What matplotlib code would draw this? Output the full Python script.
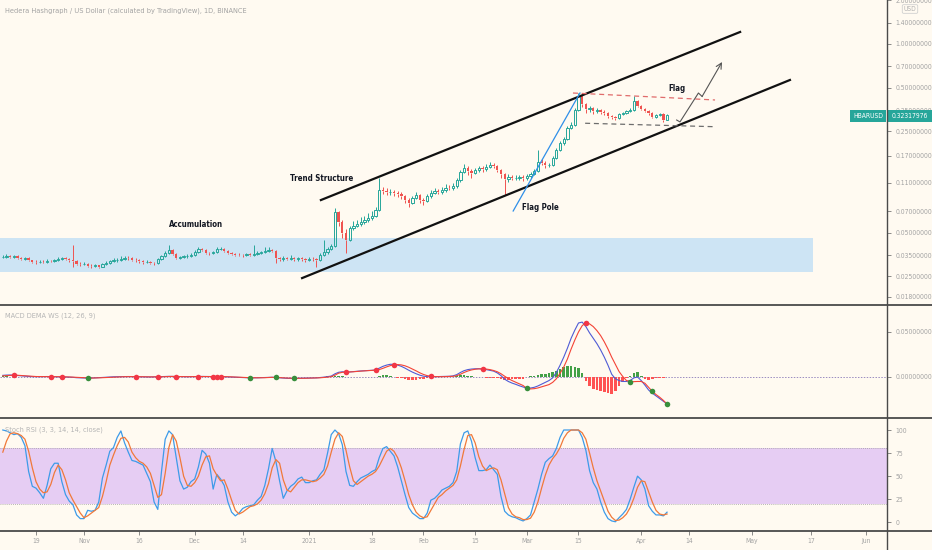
import os
import matplotlib
matplotlib.use('Agg')
import matplotlib.pyplot as plt
import matplotlib.dates as mdates
import matplotlib.patches as mpatches
from matplotlib import font_manager as fm
from matplotlib.font_manager import FontProperties
from matplotlib.lines import Line2D
from matplotlib.ticker import NullLocator
import numpy as np
import pandas as pd

# ── look ──────────────────────────────────────────────
BG = '#fffaf1'
UP = '#26a69a'
DN = '#ef5350'
TXT = '#a3a3a3'
FRAME = '#4a4a4a'

# TradingView uses a narrow face; take a narrow/condensed one if it is installed
_files = {os.path.basename(f.fname).lower(): f.fname for f in fm.fontManager.ttflist}

def _pick(cands):
    for c in cands:
        if c in _files:
            return _files[c]
    return None

_reg = _pick(['liberationsansnarrow-regular.ttf', 'dejavusanscondensed.ttf',
              'robotocondensed-regular.ttf', 'notosans-condensed.ttf'])
_bold = _pick(['liberationsansnarrow-bold.ttf', 'dejavusanscondensed-bold.ttf',
               'robotocondensed-bold.ttf', 'notosans-condensedbold.ttf'])
K = 1.0 if _reg else 0.86

def fp(size, bold=False):
    f = _bold if bold else _reg
    if f:
        return FontProperties(fname=f, size=size)
    return FontProperties(family=['Liberation Sans', 'DejaVu Sans'],
                          weight='bold' if bold else 'normal', size=size * K)

# ── data (HBARUSD daily, 2020-10-10 .. 2021-04-08) ───
first_open = 0.0338
close = [
    0.0342, 0.0345, 0.0340, 0.0343, 0.0336, 0.0330, 0.0333, 0.0322, 0.0315, 0.0312,
    0.0316, 0.0313, 0.0320, 0.0318, 0.0322, 0.0328, 0.0333, 0.0330, 0.0322, 0.0318,
    0.0306, 0.0303, 0.0305, 0.0296, 0.0294, 0.0297, 0.0292, 0.0303, 0.0308, 0.0318,
    0.0322, 0.0326, 0.0331, 0.0336, 0.0333, 0.0326, 0.0322, 0.0318, 0.0314, 0.0316,
    0.0310, 0.0307, 0.0328, 0.0345, 0.0362, 0.0380, 0.0356, 0.0334, 0.0338, 0.0343,
    0.0345, 0.0350, 0.0370, 0.0386, 0.0380, 0.0362, 0.0360, 0.0368, 0.0385, 0.0388,
    0.0374, 0.0362, 0.0355, 0.0352, 0.0350, 0.0348, 0.0354, 0.0352, 0.0358, 0.0362,
    0.0366, 0.0372, 0.0378, 0.0376, 0.0332, 0.0328, 0.0334, 0.0330, 0.0334, 0.0328,
    0.0333, 0.0329, 0.0325, 0.0330, 0.0327, 0.0324, 0.0352, 0.0366, 0.0385, 0.0405,
    0.0690, 0.0590, 0.0500, 0.0446, 0.0540, 0.0560, 0.0574, 0.0590, 0.0610, 0.0630,
    0.0652, 0.0716, 0.0980, 0.0970, 0.0950, 0.0955, 0.0940, 0.0925, 0.0890, 0.0840,
    0.0800, 0.0870, 0.0910, 0.0840, 0.0827, 0.0890, 0.0940, 0.0970, 0.0955, 0.0985,
    0.1020, 0.1015, 0.1050, 0.1150, 0.1310, 0.1400, 0.1330, 0.1290, 0.1350, 0.1400,
    0.1370, 0.1420, 0.1460, 0.1440, 0.1350, 0.1270, 0.1170, 0.1210, 0.1190, 0.1195,
    0.1210, 0.1190, 0.1230, 0.1270, 0.1330, 0.1540, 0.1510, 0.1460, 0.1470, 0.1640,
    0.1860, 0.2070, 0.2210, 0.2630, 0.2760, 0.3500, 0.4380, 0.3860, 0.3560, 0.3600,
    0.3450, 0.3480, 0.3400, 0.3340, 0.3180, 0.3140, 0.3090, 0.3290, 0.3340, 0.3450,
    0.3480, 0.4050, 0.3740, 0.3560, 0.3450, 0.3340, 0.3140, 0.3230, 0.3290, 0.3000,
    0.3232]
high = [
    .0352, .0356, .0352, .0350, .0348, .0341, .0340, .0337, .0326, .0322,
    .0324, .0322, .0328, .0326, .0331, .0337, .0342, .0340, .0336, .0410,
    .0322, .0312, .0312, .0309, .0302, .0305, .0301, .0311, .0318, .0326,
    .0332, .0336, .0345, .0347, .0343, .0338, .0332, .0328, .0324, .0323,
    .0320, .0316, .0334, .0352, .0372, .0412, .0388, .0362, .0346, .0352,
    .0354, .0362, .0380, .0400, .0394, .0386, .0370, .0376, .0395, .0398,
    .0394, .0379, .0367, .0362, .0360, .0357, .0362, .0362, .0410, .0372,
    .0376, .0395, .0400, .0388, .0382, .0340, .0346, .0342, .0348, .0340,
    .0342, .0340, .0336, .0340, .0338, .0334, .0362, .0445, .0400, .0420,
    .0740, .0700, .0610, .0530, .0560, .0600, .0610, .0640, .0650, .0680,
    .0700, .0750, .1190, .1030, .1010, .1000, .0990, .0975, .0950, .0910,
    .0860, .0895, .0950, .0930, .0870, .0920, .0980, .1010, .1000, .1030,
    .1080, .1060, .1100, .1200, .1360, .1480, .1430, .1380, .1400, .1450,
    .1440, .1480, .1540, .1510, .1470, .1380, .1290, .1260, .1250, .1240,
    .1250, .1240, .1270, .1310, .1380, .1860, .1600, .1550, .1520, .1700,
    .1920, .2150, .2300, .2700, .2900, .3600, .4600, .4420, .3900, .3750,
    .3650, .3600, .3560, .3480, .3390, .3260, .3200, .3360, .3420, .3520,
    .3600, .4400, .4100, .3800, .3620, .3500, .3380, .3290, .3350, .3320,
    .3290]
low = [
    .0332, .0336, .0335, .0334, .0331, .0325, .0326, .0317, .0309, .0306,
    .0308, .0307, .0309, .0312, .0314, .0318, .0323, .0324, .0316, .0288,
    .0299, .0296, .0297, .0290, .0287, .0288, .0284, .0288, .0298, .0303,
    .0313, .0316, .0320, .0326, .0326, .0320, .0316, .0311, .0306, .0308,
    .0302, .0300, .0303, .0323, .0340, .0356, .0350, .0328, .0327, .0332,
    .0336, .0339, .0345, .0364, .0372, .0356, .0353, .0355, .0362, .0377,
    .0368, .0355, .0348, .0345, .0343, .0341, .0343, .0345, .0346, .0352,
    .0356, .0360, .0365, .0368, .0310, .0318, .0320, .0322, .0323, .0320,
    .0321, .0321, .0316, .0318, .0319, .0290, .0320, .0346, .0358, .0378,
    .0400, .0560, .0460, .0360, .0440, .0520, .0545, .0555, .0575, .0590,
    .0610, .0640, .0700, .0930, .0910, .0905, .0900, .0885, .0850, .0800,
    .0750, .0785, .0850, .0800, .0780, .0810, .0870, .0920, .0920, .0930,
    .0960, .0980, .0990, .1020, .1120, .1280, .1250, .1200, .1260, .1320,
    .1320, .1340, .1390, .1390, .1310, .1200, .0910, .1120, .1150, .1150,
    .1160, .1130, .1160, .1200, .1250, .1320, .1460, .1400, .1410, .1450,
    .1600, .1820, .2020, .2180, .2580, .2720, .3450, .3700, .3350, .3420,
    .3300, .3350, .3300, .3230, .3080, .3050, .2980, .3050, .3230, .3290,
    .3380, .3430, .3650, .3480, .3380, .3250, .3080, .3100, .3180, .2880,
    .2980]
last_price = 0.32317976

macd_line = [
    0.0018, 0.0021, 0.0022, 0.0020, 0.0016, 0.0012, 0.0009, 0.0006, 0.0004, 0.0003,
    0.0003, 0.0004, 0.0005, 0.0004, 0.0004, 0.0003, 0.0002, 0.0000, -0.0002, -0.0004,
    -0.0008, -0.0010, -0.0012, -0.0013, -0.0012, -0.0010, -0.0008, -0.0006, -0.0003, 0.0000,
    0.0002, 0.0003, 0.0004, 0.0005, 0.0005, 0.0004, 0.0003, 0.0002, 0.0001, 0.0000,
    0.0000, 0.0001, 0.0002, 0.0004, 0.0006, 0.0007, 0.0006, 0.0004, 0.0003, 0.0003,
    0.0003, 0.0004, 0.0005, 0.0006, 0.0006, 0.0005, 0.0005, 0.0005, 0.0004, 0.0004,
    0.0003, 0.0001, -0.0001, -0.0003, -0.0005, -0.0007, -0.0009, -0.0010, -0.0010, -0.0009,
    -0.0008, -0.0006, -0.0004, -0.0003, -0.0006, -0.0010, -0.0013, -0.0015, -0.0016, -0.0016,
    -0.0015, -0.0014, -0.0013, -0.0012, -0.0011, -0.0010, -0.0006, -0.0002, 0.0004, 0.0010,
    0.0035, 0.0052, 0.0058, 0.0055, 0.0056, 0.0060, 0.0064, 0.0067, 0.0070, 0.0072,
    0.0074, 0.0078, 0.0098, 0.0118, 0.0132, 0.0141, 0.0140, 0.0132, 0.0118, 0.0098,
    0.0075, 0.0054, 0.0036, 0.0020, 0.0009, 0.0004, 0.0002, 0.0003, 0.0004, 0.0005,
    0.0006, 0.0008, 0.0012, 0.0026, 0.0050, 0.0070, 0.0082, 0.0088, 0.0091, 0.0092,
    0.0088, 0.0082, 0.0074, 0.0065, 0.0045, 0.0015, -0.0025, -0.0050, -0.0068, -0.0082,
    -0.0098, -0.0112, -0.0125, -0.0123, -0.0115, -0.0100, -0.0080, -0.0060, -0.0040, -0.0010,
    0.0050, 0.0130, 0.0220, 0.0320, 0.0430, 0.0520, 0.0600, 0.0610, 0.0560, 0.0490,
    0.0430, 0.0370, 0.0300, 0.0220, 0.0130, 0.0030, -0.0020, -0.0040, -0.0050, -0.0050,
    -0.0040, -0.0010, 0.0000, -0.0040, -0.0090, -0.0145, -0.0180, -0.0210, -0.0240, -0.0270,
    -0.0300]
signal_line = [
    0.0012, 0.0015, 0.0018, 0.0020, 0.0019, 0.0016, 0.0013, 0.0010, 0.0007, 0.0005,
    0.0004, 0.0004, 0.0004, 0.0004, 0.0004, 0.0004, 0.0003, 0.0002, 0.0000, -0.0002,
    -0.0005, -0.0007, -0.0009, -0.0011, -0.0012, -0.0011, -0.0010, -0.0008, -0.0006, -0.0003,
    -0.0001, 0.0001, 0.0002, 0.0003, 0.0004, 0.0004, 0.0004, 0.0003, 0.0002, 0.0001,
    0.0001, 0.0001, 0.0001, 0.0002, 0.0004, 0.0005, 0.0006, 0.0005, 0.0004, 0.0004,
    0.0003, 0.0003, 0.0004, 0.0005, 0.0005, 0.0005, 0.0005, 0.0005, 0.0005, 0.0005,
    0.0004, 0.0003, 0.0001, -0.0001, -0.0003, -0.0005, -0.0007, -0.0008, -0.0009, -0.0009,
    -0.0009, -0.0008, -0.0006, -0.0004, -0.0005, -0.0007, -0.0010, -0.0012, -0.0014, -0.0015,
    -0.0015, -0.0015, -0.0014, -0.0013, -0.0012, -0.0011, -0.0009, -0.0006, -0.0002, 0.0004,
    0.0020, 0.0042, 0.0052, 0.0054, 0.0055, 0.0058, 0.0062, 0.0065, 0.0068, 0.0071,
    0.0073, 0.0076, 0.0082, 0.0096, 0.0112, 0.0126, 0.0136, 0.0138, 0.0134, 0.0124,
    0.0108, 0.0088, 0.0068, 0.0046, 0.0028, 0.0015, 0.0008, 0.0004, 0.0003, 0.0003,
    0.0004, 0.0005, 0.0007, 0.0014, 0.0030, 0.0050, 0.0066, 0.0078, 0.0086, 0.0090,
    0.0090, 0.0088, 0.0082, 0.0072, 0.0058, 0.0036, 0.0008, -0.0018, -0.0040, -0.0058,
    -0.0075, -0.0095, -0.0128, -0.0133, -0.0130, -0.0122, -0.0110, -0.0098, -0.0085, -0.0060,
    -0.0020, 0.0040, 0.0110, 0.0200, 0.0310, 0.0410, 0.0500, 0.0570, 0.0605, 0.0590,
    0.0560, 0.0515, 0.0460, 0.0390, 0.0310, 0.0220, 0.0140, 0.0060, 0.0005, -0.0040,
    -0.0052, -0.0052, -0.0050, -0.0050, -0.0070, -0.0115, -0.0160, -0.0195, -0.0225, -0.0260,
    -0.0300]
# crossover markers, in days after 2020-10-19
cross_down_days = [-6, 4, 7, 27, 33, 38, 44, 48, 49, 50, 84, 92, 97, 107, 121, 149]
cross_up_days = [14, 58, 65, 70, 133, 161, 167, 171]

stoch_k = [
    100, 99, 97, 95, 96, 92, 83, 55, 39, 37,
    32, 26, 40, 58, 64, 64, 44, 30, 23, 19,
    8, 4, 4, 13, 12, 13, 22, 48, 62, 77,
    81, 92, 99, 86, 76, 67, 66, 64, 62, 53,
    44, 22, 14, 55, 90, 99, 95, 70, 45, 36,
    38, 44, 47, 60, 78, 74, 64, 36, 52, 47,
    40, 22, 11, 7, 10, 15, 17, 18, 19, 24,
    28, 40, 58, 80, 66, 45, 26, 34, 39, 42,
    47, 49, 43, 43, 45, 46, 52, 57, 75, 95,
    100, 96, 84, 55, 40, 39, 44, 48, 50, 52,
    55, 57, 70, 80, 82, 77, 72, 60, 45, 30,
    16, 10, 7, 4, 4, 10, 24, 26, 30, 35,
    37, 39, 43, 55, 85, 97, 99, 88, 70, 56,
    56, 57, 62, 57, 52, 28, 12, 8, 6, 5,
    3, 1.5, 4, 8, 22, 36, 52, 65, 69, 72,
    80, 92, 100, 100, 100, 100, 100, 92, 78, 56,
    43, 36, 22, 11, 4, 1.5, 0.6, 5, 9, 14,
    25, 38, 50, 46, 36, 18, 12, 8, 8, 7,
    11]
stoch_d = [
    76, 88, 96, 97, 96, 94, 90, 77, 59, 44,
    36, 32, 33, 41, 54, 62, 57, 46, 32, 24,
    17, 10, 5, 7, 10, 13, 16, 28, 44, 62,
    73, 83, 91, 92, 87, 76, 70, 66, 64, 60,
    53, 40, 27, 30, 53, 81, 95, 88, 70, 50,
    40, 39, 43, 50, 62, 71, 72, 58, 51, 45,
    46, 36, 24, 13, 9, 11, 14, 17, 18, 20,
    24, 31, 42, 59, 68, 64, 46, 35, 33, 38,
    43, 46, 46, 45, 44, 45, 48, 52, 61, 76,
    90, 97, 93, 78, 60, 45, 41, 44, 47, 50,
    52, 55, 61, 69, 77, 80, 77, 70, 59, 45,
    30, 19, 11, 7, 5, 6, 13, 20, 27, 30,
    34, 37, 40, 46, 61, 79, 94, 95, 86, 71,
    61, 56, 58, 59, 57, 46, 31, 16, 9, 6,
    5, 3, 3, 4.5, 11, 22, 37, 51, 62, 69,
    74, 81, 91, 97, 100, 100, 100, 97, 90, 75,
    59, 45, 34, 23, 12, 5.5, 2, 2.4, 5, 9,
    16, 26, 38, 45, 44, 33, 22, 13, 9, 8,
    9]

price_ticks = [2.0, 1.4, 1.0, 0.7, 0.5, 0.35, 0.25, 0.17, 0.11,
               0.07, 0.05, 0.035, 0.025, 0.018]
date_ticks = ['2020-10-19', '2020-11-01', '2020-11-16', '2020-12-01', '2020-12-14',
              '2021-01-01', '2021-01-18', '2021-02-01', '2021-02-15', '2021-03-01',
              '2021-03-15', '2021-04-01', '2021-04-14', '2021-05-01', '2021-05-17',
              '2021-06-01']
date_labels = ['19', 'Nov', '16', 'Dec', '14', '2021', '18', 'Feb', '15', 'Mar',
               '15', 'Apr', '14', 'May', '17', 'Jun']

# ── arrays ────────────────────────────────────────────
close = np.array(close); high = np.array(high); low = np.array(low)
opens = np.r_[first_open, close[:-1]]
x = mdates.date2num(pd.date_range('2020-10-10', periods=len(close), freq='D'))
macd_line = np.array(macd_line); signal_line = np.array(signal_line)
hist = macd_line - signal_line
base = mdates.date2num(pd.Timestamp('2020-10-19'))

def day(n):
    return base + n

# ── figure / panes ────────────────────────────────────
W, H = 932, 550
RIGHT = 887
fig = plt.figure(figsize=(W / 100, H / 100), dpi=100, facecolor=BG)
TICK_FP = fp(4.9)
PANE_FP = fp(5.3)
BOLD_FP = fp(5.7, bold=True)

def pane(top, bottom):
    ax = fig.add_axes([0, 1 - bottom / H, RIGHT / W, (bottom - top) / H])
    ax.set_facecolor(BG)
    for s in ax.spines.values():
        s.set_visible(False)
    ax.set_xlim(day(-9.76), day(230.6))
    ax.yaxis.tick_right()
    ax.tick_params(axis='y', direction='out', length=3, width=0.6, color='#777777',
                   labelcolor=TXT, pad=3)
    ax.tick_params(axis='x', bottom=False, labelbottom=False)
    return ax

def style_labels(labels):
    for t in labels:
        t.set_fontproperties(TICK_FP)

ax1 = pane(0, 305)
ax2 = pane(305, 418)
ax3 = pane(418, 531)

# ── price pane ────────────────────────────────────────
ax1.set_yscale('log')
ax1.set_ylim(0.01585, 2.01)
ax1.set_yticks(price_ticks)
ax1.set_yticklabels([f'{v:.8f}' for v in price_ticks])
ax1.yaxis.set_minor_locator(NullLocator())

ax1.axhspan(0.0268, 0.0459, xmin=0, xmax=813 / RIGHT, color='#cde4f4', lw=0, zorder=1)

up = close >= opens
b_lo = np.minimum(opens, close)
b_hi = np.maximum(opens, close)
wick_c = np.where(up, UP, DN)
ax1.vlines(x, low, b_lo, colors=wick_c, lw=0.7, zorder=3)
ax1.vlines(x, b_hi, high, colors=wick_c, lw=0.7, zorder=3)
ax1.bar(x[up], b_hi[up] - b_lo[up], bottom=b_lo[up], width=0.62,
        facecolor='none', edgecolor=UP, lw=0.7, zorder=4)
ax1.bar(x[~up], b_hi[~up] - b_lo[~up], bottom=b_lo[~up], width=0.62,
        color=DN, lw=0, zorder=4)

# drawings
ax1.plot([day(77.2), day(190.8)], [0.0839, 1.21], color='#111111', lw=1.6, zorder=5)
ax1.plot([day(72.1), day(204.3)], [0.0243, 0.5645], color='#111111', lw=1.6, zorder=5)
ax1.plot([day(145.5), day(184)], [0.459, 0.411], color='#e06b6b', lw=0.9,
         ls=(0, (4, 3)), zorder=5)
ax1.plot([day(148.8), day(183.5)], [0.284, 0.269], color='#6d6d6d', lw=0.9,
         ls=(0, (4, 3)), zorder=5)
ax1.plot([day(129.3), day(147.4)], [0.0705, 0.459], color='#2f8fe8', lw=0.9, zorder=5)
path_d = [173.6, 174.5, 179.5, 180.5]
path_p = [0.299, 0.290, 0.459, 0.4345]
ax1.plot([day(d) for d in path_d], path_p, color='#555555', lw=0.8, zorder=5)
ax1.annotate('', xy=(day(185.9), 0.751), xytext=(day(180.5), 0.4345),
             arrowprops=dict(arrowstyle='->', color='#555555', lw=0.8,
                             shrinkA=0, shrinkB=0), zorder=5)

lab = dict(fontproperties=BOLD_FP, color='#131722', ha='center', va='center', zorder=6)
ax1.text(day(173.7), 0.497, 'Flag', **lab)
ax1.text(day(136.6), 0.074, 'Flag Pole', **lab)
ax1.text(day(77.5), 0.119, 'Trend Structure', **lab)
ax1.text(day(43.4), 0.0565, 'Accumulation', **lab)

ax1.text(5 / RIGHT, 1 - 11 / 305,
         'Hedera Hashgraph / US Dollar (calculated by TradingView), 1D, BINANCE',
         transform=ax1.transAxes, fontproperties=PANE_FP, color=TXT, va='center', ha='left')

# ── MACD pane ─────────────────────────────────────────
ax2.set_ylim(-0.0456, 0.08)
ax2.set_yticks([0.0, 0.05])
ax2.set_yticklabels(['0.00000000', '0.05000000'])
ax2.axhline(0, color='#9a8cc0', lw=0.7, ls=(0, (1.5, 1.5)), zorder=1)
ax2.bar(x, hist, width=0.7, color=np.where(hist >= 0, '#43a047', '#ff5252'), lw=0, zorder=2)
ax2.plot(x, macd_line, color='#4f5bd5', lw=0.8, zorder=3)
ax2.plot(x, signal_line, color='#f44336', lw=0.8, zorder=3)
dn_idx = np.array(cross_down_days) + 9
up_idx = np.array(cross_up_days) + 9
ax2.scatter(x[dn_idx], signal_line[dn_idx], s=16, color='#f23645', lw=0, zorder=4)
ax2.scatter(x[up_idx], signal_line[up_idx], s=16, color='#388e3c', lw=0, zorder=4)
ax2.text(5 / RIGHT, 1 - 11 / 113, 'MACD DEMA WS (12, 26, 9)', transform=ax2.transAxes,
         fontproperties=PANE_FP, color='#b5b5b5', va='center', ha='left')

# ── Stoch RSI pane ────────────────────────────────────
ax3.set_ylim(-9.4, 113)
ax3.set_yticks([0, 25, 50, 75, 100])
ax3.set_yticklabels(['0', '25', '50', '75', '100'])
ax3.axhspan(20, 80, color='#e6cdf3', lw=0, zorder=1)
for lvl in (20, 80):
    ax3.axhline(lvl, color='#a0a0a0', lw=0.6, ls=(0, (1, 1.5)), zorder=2)
ax3.plot(x, stoch_k, color='#3d9be9', lw=0.9, zorder=3)
ax3.plot(x, stoch_d, color='#f0793a', lw=0.9, zorder=3)
ax3.text(5 / RIGHT, 1 - 12 / 113, 'Stoch RSI (3, 3, 14, 14, close)', transform=ax3.transAxes,
         fontproperties=PANE_FP, color='#b5b5b5', va='center', ha='left')

ax3.tick_params(axis='x', bottom=True, labelbottom=True, direction='out', length=3,
                width=0.6, color='#777777', labelcolor=TXT, pad=2)
ax3.set_xticks([mdates.date2num(pd.Timestamp(d)) for d in date_ticks])
ax3.set_xticklabels(date_labels)

for ax in (ax1, ax2, ax3):
    style_labels(ax.get_yticklabels())
style_labels(ax3.get_xticklabels())

# ── frame lines ───────────────────────────────────────
for yy in (305, 418, 531):
    fig.add_artist(Line2D([0, 1], [1 - yy / H] * 2, color=FRAME, lw=1.3))
fig.add_artist(Line2D([RIGHT / W] * 2, [0, 1], color=FRAME, lw=1.0))

# ── last price tag ────────────────────────────────────
tag_y = 116
fig.add_artist(mpatches.Rectangle((850 / W, 1 - (tag_y + 6) / H), 36 / W, 12 / H,
                                  transform=fig.transFigure, color='#26a69a', lw=0))
fig.add_artist(mpatches.Rectangle((RIGHT / W, 1 - (tag_y + 6) / H), 45 / W, 12 / H,
                                  transform=fig.transFigure, color='#26a69a', lw=0))
fig.text(868 / W, 1 - tag_y / H, 'HBARUSD', color='white', fontproperties=TICK_FP,
         ha='center', va='center')
fig.text(909.5 / W, 1 - tag_y / H, f'{last_price:.8f}', color='white', fontproperties=TICK_FP,
         ha='center', va='center')
fig.text(910 / W, 1 - 9 / H, 'USD', fontproperties=fp(4.8), color='#b0b0b0',
         ha='center', va='center',
         bbox=dict(boxstyle='round,pad=0.2', fc=BG, ec='#d0d0d0', lw=0.6))

fig.savefig('out.png', dpi=100, facecolor=BG)
plt.close(fig)
